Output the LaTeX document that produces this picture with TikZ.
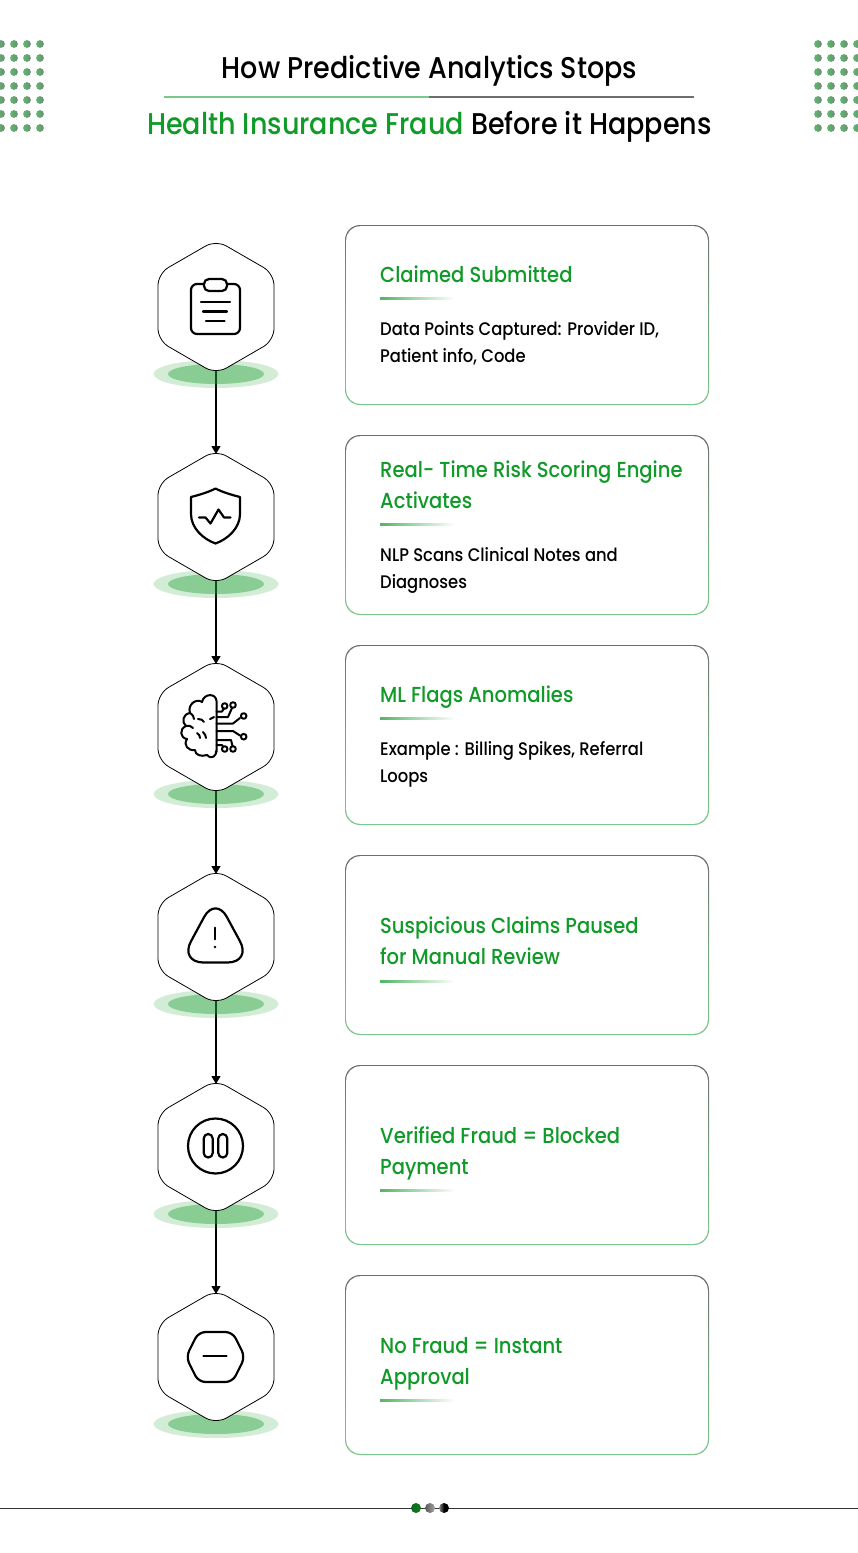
\documentclass[tikz,border=0pt]{standalone}
\usepackage{fontspec}
\setmainfont{Poppins Medium}[FakeStretch=0.90]
\usetikzlibrary{arrows.meta, shapes.geometric, backgrounds}

\definecolor{leafgreen}{HTML}{109A28}
\definecolor{softgreen}{HTML}{7CC88C}
\definecolor{midgray}{HTML}{6E6E6E}
\definecolor{blobgreen}{HTML}{1EA032}

\tikzset{
    hexbox/.style={regular polygon, regular polygon sides=6, shape border rotate=30, draw=black, fill=white,
        line width=0.8pt, rounded corners=12pt, minimum size=134pt, inner sep=0pt, outer sep=0pt},
    cardedge/.style={minimum width=364pt, minimum height=180pt, rounded corners=15pt, inner sep=0pt, outer sep=0pt,
        top color=midgray, bottom color=softgreen, middle color=softgreen!55!midgray},
    cardface/.style={minimum width=361.6pt, minimum height=177.6pt, rounded corners=14pt, inner sep=0pt, fill=white},
    headtext/.style={anchor=base west, inner sep=0pt, align=left, text=leafgreen, font=\fontsize{21.7}{31}\selectfont},
    bodytext/.style={anchor=base west, inner sep=0pt, align=left, text=black, font=\fontsize{18.2}{27}\selectfont},
    titletext/.style={anchor=base, inner sep=0pt, text=black, font=\fontsize{30}{32}\selectfont},
    flowline/.style={-{Triangle[length=8pt,width=9pt]}, line width=1.3pt, black, shorten <=-4pt, shorten >=-4pt},
    iconline/.style={draw=black, line width=2.2pt, line cap=round, line join=round},
    brainline/.style={draw=black, line width=2pt, line cap=round, line join=round}
}

\begin{document}
\begin{tikzpicture}[x=1pt,y=-1pt]
    \useasboundingbox (0,0) rectangle (858,1553);

    % Corner dots
    \foreach \colx in {1,14,27,40,818,831,844,857}
        \foreach \rowy in {44,58,72,86,100,114,128}
            \shade[left color=softgreen!70!leafgreen, right color=midgray!70!softgreen] (\colx,\rowy) circle[radius=3.9];

    % Title
    \node[titletext] (titletop) at (429.5,78) {How Predictive Analytics Stops};
    \draw[softgreen,line width=1.6pt] (164,97) -- (429,97);
    \draw[midgray,line width=1.6pt] (429,97) -- (694,97);
    \node[titletext] (titlelow) at (429.5,134.5) {\textcolor{leafgreen}{Health Insurance Fraud} Before it Happens};

    % Hexagons down the left side
    \node[hexbox] (hexclaim) at (216,307) {};
    \node[hexbox] (hexscore) at (216,517) {};
    \node[hexbox] (hexflags) at (216,727) {};
    \node[hexbox] (hexpause) at (216,937) {};
    \node[hexbox] (hexblock) at (216,1147) {};
    \node[hexbox] (hexclear) at (216,1357) {};

    % Connectors and green shadows sit behind the hexagons
    \begin{scope}[on background layer]
        \draw[flowline] (hexclaim.south) -- (hexscore.north);
        \draw[flowline] (hexscore.south) -- (hexflags.north);
        \draw[flowline] (hexflags.south) -- (hexpause.north);
        \draw[flowline] (hexpause.south) -- (hexblock.north);
        \draw[flowline] (hexblock.south) -- (hexclear.north);
        \foreach \blobx in {374,584,794,1004,1214,1424} {
            \fill[blobgreen,opacity=0.2] (216,\blobx) ellipse[x radius=62.5, y radius=14];
            \fill[blobgreen,opacity=0.4] (216,\blobx) ellipse[x radius=48, y radius=10];
        }
    \end{scope}

    % Clipboard icon
    \draw[iconline,rounded corners=6pt] (191,284) rectangle (240,334);
    \draw[iconline,fill=white,rounded corners=5pt] (204,279) rectangle (227,291);
    \draw[iconline] (201,302) -- (230,302);
    \draw[iconline] (203,311.5) -- (227,311.5);
    \draw[iconline] (206,321) -- (224.5,321);

    % Shield icon
    \draw[iconline] (215.5,488.5) .. controls (222,492) and (232,495) .. (240,497)
        -- (240,514) .. controls (240,528) and (228,539) .. (215.5,543.5)
        .. controls (203,539) and (191,528) .. (191,514) -- (191,497)
        .. controls (199,495) and (209,492) .. (215.5,488.5) -- cycle;
    \draw[iconline] (199,517.5) -- (205.5,517.5) -- (210.5,523.5) -- (218.5,509.5) -- (224,517.5) -- (230.5,517.5);

    % Brain icon
    \draw[brainline] (216.5,752) -- (216.5,701) .. controls (216,693) and (204,693) .. (202,702)
        .. controls (197,698) and (187,704) .. (190,713)
        .. controls (183,714) and (181,722) .. (186,726)
        .. controls (179,729) and (180,738) .. (187,739)
        .. controls (183,745) and (188,751) .. (195,750)
        .. controls (195,755) and (201,757) .. (207,755)
        .. controls (212,760) and (216.5,756) .. (216.5,750);
    \draw[brainline] (198,719) .. controls (201,719) and (203,720) .. (204,722);
    \draw[brainline] (190,713) .. controls (193,715) and (194,717) .. (194,719);
    \draw[brainline] (186,726) .. controls (189,725) and (191,726) .. (193,728);
    \draw[brainline] (197,733) .. controls (199,734) and (200,736) .. (200,738);
    \draw[brainline] (203,732) .. controls (205,734) and (206,736) .. (206,738);
    \draw[brainline] (210,719) -- (214,717);
    \draw[brainline] (216.5,711.5) -- (222,711.5) -- (224,708.5);
    \draw[brainline] (216.5,717) -- (228,717) -- (232,708);
    \draw[brainline] (216.5,723.5) -- (233,723.5) -- (240,718);
    \draw[brainline] (216.5,731) -- (233,731) -- (240,735.5);
    \draw[brainline] (216.5,740) -- (231,740) -- (232.5,746);
    \draw[brainline] (216.5,745) -- (222,745) -- (223,746.5);
    \foreach \nodex/\nodey in {224.7/706, 233/705, 243.7/716, 243.7/736.7, 224.7/749, 233/749}
        \draw[brainline] (\nodex,\nodey) circle[radius=2.8];

    % Warning icon
    \draw[iconline,rounded corners=24pt] (215.5,896) -- (251.5,962.5) -- (179.5,962.5) -- cycle;
    \draw[iconline,line width=1.8pt] (215,927.5) -- (215,939.5);
    \fill (215,947) circle[radius=1.3];

    % Pause icon
    \draw[iconline] (215.5,1146) circle[radius=27.5];
    \draw[iconline,rounded corners=4.5pt] (203.7,1134) rectangle (212.7,1157.5);
    \draw[iconline,rounded corners=4.5pt] (218.3,1134) rectangle (227.3,1157.5);

    % Stop icon
    \draw[iconline,rounded corners=7pt] (198.5,1332) -- (232.5,1332) -- (245,1357) -- (232.5,1382) -- (198.5,1382) -- (186,1357) -- cycle;
    \draw[iconline] (203.5,1356) -- (226.5,1356);

    % Card 1
    \node[cardedge] (cardone) at (527,315) {};
    \node[cardface] (faceone) at (527,315) {};
    \node[headtext] (headone) at (380,282) {Claimed Submitted};
    \shade[left color=softgreen!60!leafgreen, right color=white] (380,297) rectangle (455,299);
    \node[bodytext] (bodyone) at (380,362) {Data Points Captured: Provider ID,\\Patient info, Code};

    % Card 2
    \node[cardedge] (cardtwo) at (527,525) {};
    \node[cardface] (facetwo) at (527,525) {};
    \node[headtext] (headtwo) at (380,508) {Real- Time Risk Scoring Engine\\Activates};
    \shade[left color=softgreen!60!leafgreen, right color=white] (380,523) rectangle (455,525);
    \node[bodytext] (bodytwo) at (380,588) {NLP Scans Clinical Notes and\\Diagnoses};

    % Card 3
    \node[cardedge] (cardthree) at (527,735) {};
    \node[cardface] (facethree) at (527,735) {};
    \node[headtext] (headthree) at (380,702) {ML Flags Anomalies};
    \shade[left color=softgreen!60!leafgreen, right color=white] (380,717) rectangle (455,719);
    \node[bodytext] (bodythree) at (380,782) {Example : Billing Spikes, Referral\\Loops};

    % Card 4
    \node[cardedge] (cardfour) at (527,945) {};
    \node[cardface] (facefour) at (527,945) {};
    \node[headtext] (headfour) at (380,964) {Suspicious Claims Paused\\for Manual Review};
    \shade[left color=softgreen!60!leafgreen, right color=white] (380,980) rectangle (455,982);

    % Card 5
    \node[cardedge] (cardfive) at (527,1155) {};
    \node[cardface] (facefive) at (527,1155) {};
    \node[headtext] (headfive) at (380,1174) {Verified Fraud = Blocked\\Payment};
    \shade[left color=softgreen!60!leafgreen, right color=white] (380,1189) rectangle (455,1191);

    % Card 6
    \node[cardedge] (cardsix) at (527,1365) {};
    \node[cardface] (facesix) at (527,1365) {};
    \node[headtext] (headsix) at (380,1384) {No Fraud = Instant\\Approval};
    \shade[left color=softgreen!60!leafgreen, right color=white] (380,1399) rectangle (455,1401);

    % Footer
    \draw[black!80,line width=0.7pt] (0,1508) -- (858,1508);
    \shade[left color=leafgreen!70!black, right color=leafgreen!80!black] (416,1508) circle[radius=5];
    \shade[left color=black!65, right color=black!35] (430,1508) circle[radius=5];
    \shade[left color=black!45, right color=black, middle color=black] (444,1508) circle[radius=5];
\end{tikzpicture}
\end{document}
